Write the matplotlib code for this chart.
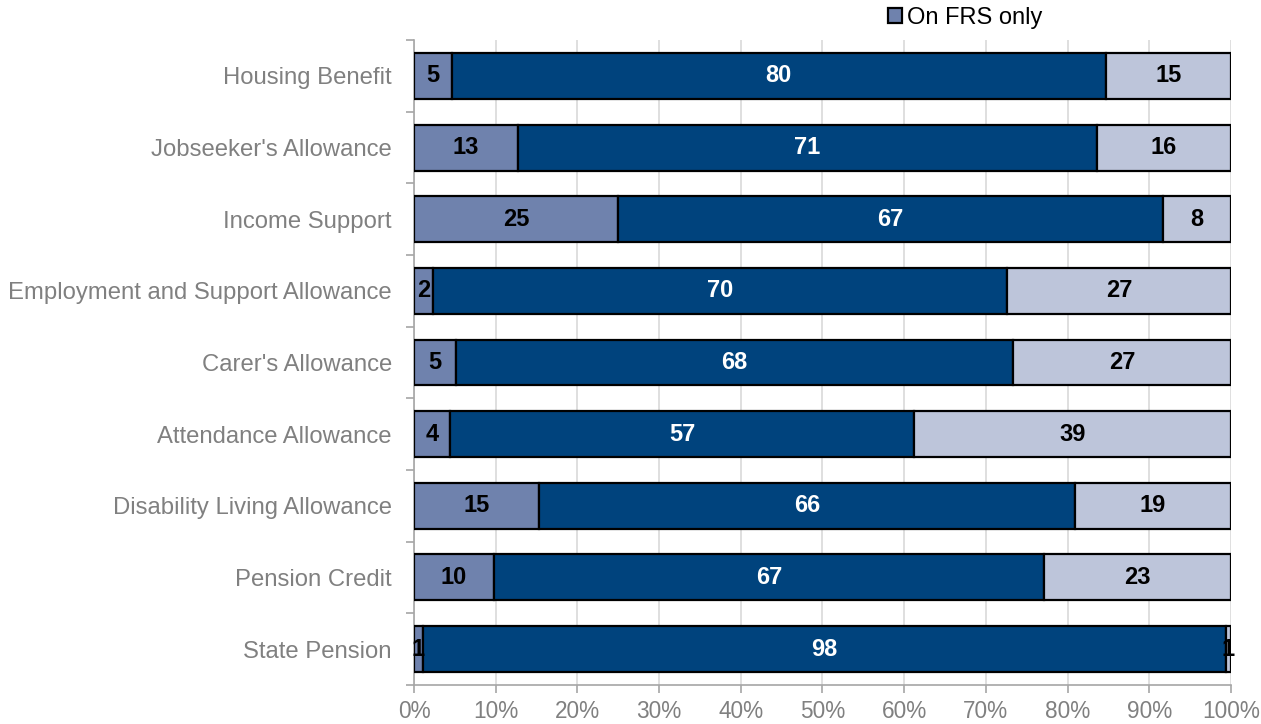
import matplotlib
matplotlib.use("Agg")
import matplotlib.pyplot as plt
import numpy as np

plt.rcParams['font.family'] = ['Liberation Sans', 'DejaVu Sans']

categories = ["Housing Benefit", "Jobseeker's Allowance", "Income Support",
              "Employment and Support Allowance", "Carer's Allowance",
              "Attendance Allowance", "Disability Living Allowance",
              "Pension Credit", "State Pension"]
frs_only = [4.6, 12.7, 25.0, 2.3, 5.1, 4.4, 15.3, 9.8, 1.1]
both = [80.1, 70.9, 66.7, 70.3, 68.2, 56.8, 65.6, 67.3, 98.3]
admin_only = [15.3, 16.4, 8.3, 27.4, 26.7, 38.8, 19.1, 22.9, 0.6]
frs_labels = ["5", "13", "25", "2", "5", "4", "15", "10", "1"]
both_labels = ["80", "71", "67", "70", "68", "57", "66", "67", "98"]
admin_labels = ["15", "16", "8", "27", "27", "39", "19", "23", "1"]
xticks = [0, 10, 20, 30, 40, 50, 60, 70, 80, 90, 100]
xtick_labels = [f"{t}%" for t in xticks]

colors = ["#6F82AD", "#00437D", "#BDC5DA"]
text_colors = ["black", "white", "black"]

fig = plt.figure(figsize=(12.61, 7.24), dpi=100)
ax = fig.add_axes([0.3283, 0.0541, 0.6479, 0.8904])

y = np.arange(len(categories))
series = [frs_only, both, admin_only]
labels = [frs_labels, both_labels, admin_labels]
names = ["On FRS only", "On both", "On admin only"]
left = np.zeros(len(categories))
containers = []
for vals, labs, col, tcol, name in zip(series, labels, colors, text_colors, names):
    vals = np.array(vals)
    bars = ax.barh(y, vals, left=left, height=0.64, color=col, edgecolor="black",
                   linewidth=1.6, zorder=3, label=name)
    containers.append(bars)
    for bar, v, lab in zip(bars, vals, labs):
        t = ax.text(bar.get_x() + bar.get_width() / 2, bar.get_y() + bar.get_height() / 2,
                    lab, ha="center", va="center", color=tcol, fontsize=17,
                    fontweight="bold", zorder=5)
        t.set_clip_path(bar)
    left = left + vals

ax.set_xlim(0, 100)
ax.set_ylim(len(categories) - 0.5, -0.5)
ax.set_xticks(xticks)
ax.set_xticklabels(xtick_labels)
ax.set_yticks(y)
ax.set_yticklabels(categories)
ax.set_yticks(np.arange(-0.5, len(categories), 1.0), minor=True)

ax.tick_params(axis="y", which="major", length=0, pad=16, labelsize=17.2, labelcolor="#808080")
ax.tick_params(axis="y", which="minor", length=6, color="#A6A6A6", width=1.2, direction="out")
ax.tick_params(axis="x", which="major", length=6, color="#A6A6A6", width=1.2, pad=5,
               labelsize=16.3, labelcolor="#808080")

ax.grid(axis="x", color="#D9D9D9", linewidth=1.2, zorder=0)
ax.set_axisbelow(True)
for s in ["top", "right"]:
    ax.spines[s].set_visible(False)
for s in ["left", "bottom"]:
    ax.spines[s].set_color("#A6A6A6")
    ax.spines[s].set_linewidth(1.2)

handles = [containers[0][0]]
fig.legend(handles, ["On FRS only"], loc="center left", bbox_to_anchor=(0.695, 0.975),
           frameon=False, fontsize=17, handlelength=0.6, handleheight=0.6,
           handletextpad=0.2, borderpad=0)

fig.savefig("out.png", dpi=100)
